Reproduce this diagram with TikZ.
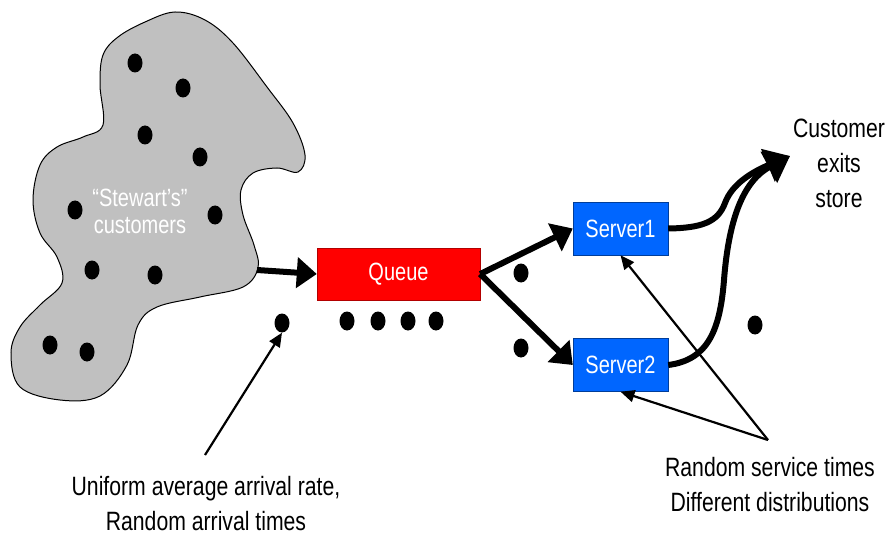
\documentclass[tikz,border=0pt]{standalone}
\usepackage{fontspec}
\setmainfont[FakeStretch=0.8]{Liberation Sans}
\usetikzlibrary{arrows.meta,calc,shapes.geometric}
\definecolor{blobgray}{RGB}{192,192,192}
\definecolor{qred}{RGB}{255,0,0}
\definecolor{sblue}{RGB}{0,102,255}
\begin{document}
\begin{tikzpicture}[x=1pt,y=-1pt,
  dot/.style={ellipse,fill=black,inner sep=0pt,minimum width=15pt,minimum height=19pt},
  qbox/.style={draw=qred!70!black,fill=qred,text=white,minimum width=163pt,minimum height=52pt,inner sep=0pt,font=\fontsize{25}{28}\selectfont},
  sbox/.style={draw=sblue!60!black,fill=sblue,text=white,minimum width=95pt,minimum height=53pt,inner sep=0pt,font=\fontsize{25}{28}\selectfont},
  bigarrow/.style={line width=6pt,-{Triangle[length=20pt,width=30pt]}},
  exitarrow/.style={line width=6pt,-{Triangle[length=24pt,width=34pt]}},
  thinarrow/.style={line width=2.2pt,-{Triangle[length=14pt,width=12pt]}},
  lbl/.style={align=center,font=\fontsize{26.5}{35}\selectfont}]
\useasboundingbox (0,0) rectangle (891,540);
% customer pool
\draw[fill=blobgray,line width=1pt] plot[smooth cycle,tension=0.6] coordinates {
 (103,55) (118,37) (145,22) (175,12) (205,20) (233,43) (267,87) (293,123) (305,155)
 (298,172) (277,168) (253,173) (241,190) (243,215) (254,245) (258,268) (243,287)
 (200,297) (157,307) (138,325) (127,365) (100,396) (60,400) (20,387) (11,353)
 (20,327) (40,305) (62,283) (57,257) (40,233) (33,200) (40,165) (57,147) (83,137)
 (103,125) (100,85)};
\node[text=white,align=center,font=\fontsize{25}{27}\selectfont] (pool) at (140,211) {“Stewart's”\\customers};
\foreach \n/\x/\y in {p1/135/63,p2/183/88,p3/145/135,p4/200/157,p5/75/210,p6/215/215,p7/92/270,p8/155/275,p9/50/345,p10/87/352}
  \node[dot] (\n) at (\x,\y) {};
\coordinate (poolout) at (257,270);
% queue and servers
\node[qbox] (queue) at (398.5,274) {Queue};
\node[sbox] (s1) at (620.5,228.5) {Server1};
\node[sbox] (s2) at (620.5,365) {Server2};
% loose customers
\node[dot] (arr) at (282,323) {};
\foreach \n/\x in {q1/347,q2/378,q3/408,q4/436}
  \node[dot] (\n) at (\x,321) {};
\node[dot] (m1) at (521,273) {};
\node[dot] (m2) at (521,348) {};
\node[dot] (m3) at (755,325) {};
% main flow
\draw[bigarrow] (poolout) -- (queue.west);
\draw[bigarrow] (queue.east) -- (s1.west);
\draw[bigarrow] (queue.east) -- (s2.west);
\coordinate (exit) at (790,156);
\draw[exitarrow] (s1.east) .. controls (702,228) and (718,222) .. (725,203)
  .. controls (732,184) and (752,172) .. (exit);
\draw[exitarrow] (s2.east) .. controls (708,360) and (720,330) .. (724,280)
  .. controls (729,215) and (745,180) .. (exit);
% labels
\node[lbl] (exitlbl) at (839,163) {Customer\\exits\\store};
\node[lbl] (arrlbl) at (206,504) {Uniform average arrival rate,\\Random arrival times};
\node[lbl] (srvlbl) at (770,485) {Random service times\\Different distributions};
\coordinate (note1) at (205,455);
\coordinate (note2) at (768,440);
\draw[thinarrow] (note1) -- (arr.south);
\draw[thinarrow] (note2) -- (s1.south);
\draw[thinarrow] (note2) -- (s2.south);
\end{tikzpicture}
\end{document}
